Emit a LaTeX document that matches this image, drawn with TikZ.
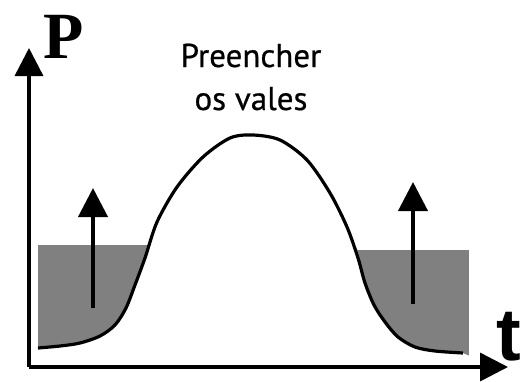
\documentclass[tikz,border=0pt]{standalone}
\usepackage{fontspec}
\newfontfamily\labelfont[FakeBold=0.6]{PT Sans}
\newfontfamily\axisfont{Liberation Serif}
\newfontfamily\timefont{Liberation Sans}
\usepackage{tikz}
\usetikzlibrary{arrows.meta, positioning}
\definecolor{ValeGray}{HTML}{808080}

\begin{document}
\begin{tikzpicture}[x=1pt, y=-1pt,
    axis/.style={line width=3.5pt, -{Triangle[width=28pt,length=28pt]}},
    lift/.style={line width=4pt, -{Triangle[width=29pt,length=29pt]}},
    load/.style={line width=3.2pt, line join=round}]
  \useasboundingbox (0,0) rectangle (521,381);

  % pontos da curva de carga
  \def\loadcurve{(38,348) (60,346) (80,343) (100,336) (115,325) (126,308)
    (135,285) (145,258) (157,222) (177,187) (203,157) (230,138) (253,135)
    (280,140) (307,160) (330,193) (347,227) (358,258) (365,283) (374,305)
    (385,322) (398,337) (415,347) (435,351) (463,353)}

  % vales preenchidos
  \begin{scope}
    \clip plot[smooth] coordinates {\loadcurve} -- (470,356) -- (470,0)
      -- (38,0) -- cycle;
    \fill[ValeGray] (38,245) rectangle (200,360);
    \fill[ValeGray] (300,250) rectangle (469,356);
  \end{scope}

  % eixos
  \coordinate (origin) at (29,367);
  \coordinate (ytop) at (29,48);
  \coordinate (xend) at (508,367);
  \draw[axis] (origin) -- (ytop);
  \draw[line width=3.5pt] (origin) -- (32,367);
  \draw[axis] (origin) -- (xend);
  \node[font=\axisfont\fontsize{66}{66}\selectfont\bfseries, inner sep=0,
    anchor=base] (plabel) at (64,58) {P};
  \node[font=\timefont\fontsize{74}{74}\selectfont\bfseries, inner sep=0,
    anchor=base east] (tlabel) at (521,360) {t};

  % curva
  \draw[load] plot[smooth] coordinates {\loadcurve};

  % setas
  \coordinate (lbase) at (93,308);
  \coordinate (ltip) at (93,188);
  \coordinate (rbase) at (413,304);
  \coordinate (rtip) at (413,182);
  \draw[lift] (lbase) -- (ltip);
  \draw[lift] (rbase) -- (rtip);

  \node[font=\labelfont\fontsize{33}{43}\selectfont, align=center, inner sep=0,
    anchor=base] (title) at (251,110) {Preencher\\os vales};
\end{tikzpicture}
\end{document}
